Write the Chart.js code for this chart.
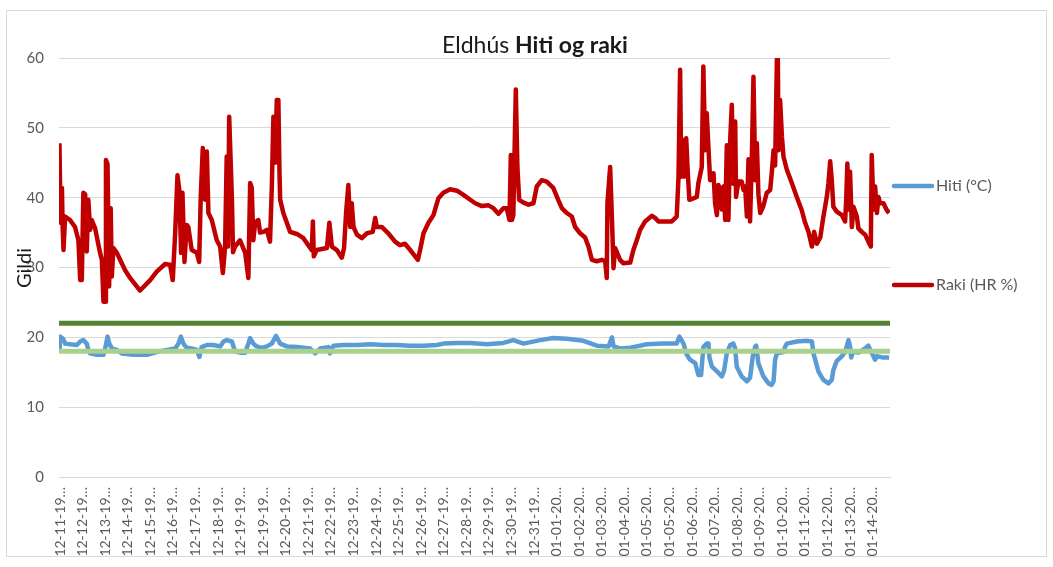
<!DOCTYPE html>
<html>
<head>
<meta charset="utf-8">
<script src="https://cdn.jsdelivr.net/npm/chart.js@4"></script>
<style>
  html, body { margin: 0; padding: 0; background: #fff; }
  #wrap { width: 1053px; height: 567px; }
</style>
</head>
<body>
<div id="wrap"><canvas id="graf" width="1053" height="567"></canvas></div>
<script>
// dagsetningar undir x-ás (eins og Excel styttir þær)
const dagar = ['12-11-19…','12-12-19…','12-13-19…','12-14-19…','12-15-19…','12-16-19…','12-17-19…','12-18-19…','12-19-19…','12-19-19…',
  '12-20-19…','12-21-19…','12-22-19…','12-23-19…','12-24-19…','12-25-19…','12-26-19…','12-27-19…','12-28-19…','12-29-19…',
  '12-30-19…','12-31-19…','01-01-20…','01-02-20…','01-03-20…','01-04-20…','01-05-20…','01-05-20…','01-06-20…','01-07-20…',
  '01-08-20…','01-09-20…','01-10-20…','01-11-20…','01-12-20…','01-13-20…','01-14-20…'];

const yTicks = [0, 10, 20, 30, 40, 50, 60];

// raki (HR %) : [staða á ás, gildi]
const raki = [
  [-0.03,47.8],[0.02,36.4],[0.08,41.4],[0.11,36],[0.15,32.5],[0.22,37.3],[0.44,36.8],[0.66,35.8],[0.81,33.9],[0.89,28.2],
  [0.96,28.2],[1.03,40.7],[1.11,40.5],[1.18,32.3],[1.25,39.7],[1.33,35.4],[1.40,36.8],[1.55,35.6],[1.77,32.1],[1.85,31.1],
  [1.92,25.1],[1.99,25.1],[2.03,45.4],[2.10,44.8],[2.17,27.3],[2.24,38.5],[2.29,28.7],[2.36,32.8],[2.51,32.1],[2.88,29.6],
  [3.10,28.5],[3.54,26.7],[3.99,28.2],[4.28,29.4],[4.65,30.5],[4.87,30.4],[4.99,28.2],[5.10,35.1],[5.20,43.2],[5.28,41.1],
  [5.36,32.1],[5.42,40.7],[5.51,30.8],[5.61,36.1],[5.68,35.8],[5.83,32.5],[6.06,32.1],[6.16,30.8],[6.23,40.1],[6.32,47.1],
  [6.42,39.7],[6.50,46.6],[6.57,37.8],[6.72,36.8],[6.94,33.9],[7.09,33.0],[7.21,29.2],[7.31,33.0],[7.38,45.9],[7.44,33],
  [7.49,51.6],[7.61,40],[7.66,32.2],[7.75,33],[7.97,33.9],[8.20,32.1],[8.34,28.5],[8.42,42.1],[8.49,41.4],[8.56,33.9],
  [8.64,36.4],[8.78,36.8],[8.86,35],[9.01,35.1],[9.16,35.4],[9.30,33.7],[9.38,41.6],[9.45,51.6],[9.53,45],[9.60,54.0],
  [9.67,54.0],[9.72,43.5],[9.75,39.7],[9.89,37.8],[10.19,35.1],[10.49,34.8],[10.78,34.2],[11.08,32.8],[11.15,32.5],[11.20,36.6],
  [11.24,31.6],[11.37,32.5],[11.82,32.8],[11.93,36.4],[12.04,33.0],[12.26,32.5],[12.48,31.4],[12.58,32.8],[12.67,37.8],[12.77,41.8],
  [12.85,35.8],[12.92,39.2],[13.00,35.8],[13.15,34.7],[13.37,34.2],[13.59,34.9],[13.85,35.1],[13.96,37.1],[14.03,35.8],[14.25,35.8],
  [14.54,34.9],[14.84,33.7],[15.06,33.2],[15.28,33.4],[15.51,32.5],[15.73,31.6],[15.85,31.1],[15.95,32.5],[16.10,34.9],[16.32,36.4],
  [16.54,37.5],[16.76,39.9],[16.98,40.7],[17.28,41.2],[17.58,41.0],[17.87,40.4],[18.17,39.7],[18.39,39.2],[18.69,38.8],[18.98,38.9],
  [19.20,38.5],[19.42,37.7],[19.64,38.5],[19.79,38.5],[19.91,36.8],[19.97,46.1],[20.02,36.8],[20.08,37.5],[20.19,55.5],[20.26,44.4],
  [20.34,39.7],[20.53,39.3],[20.75,39.0],[20.97,39.2],[21.12,41.6],[21.34,42.5],[21.56,42.3],[21.85,41.4],[22.07,39.7],[22.23,38.5],
  [22.45,37.8],[22.67,37.3],[22.82,35.8],[23.04,34.9],[23.26,34.3],[23.41,33.0],[23.56,31.1],[23.78,30.9],[24.00,31.1],[24.15,30.9],
  [24.22,28.5],[24.25,39.2],[24.37,44.4],[24.46,36],[24.52,29.9],[24.59,32.8],[24.81,31.1],[24.96,30.6],[25.26,30.7],[25.40,32.5],
  [25.55,33.9],[25.70,35.4],[25.92,36.6],[26.22,37.4],[26.36,37.1],[26.51,36.6],[27.10,36.6],[27.32,37.3],[27.40,43.0],[27.47,58.3],
  [27.52,43],[27.59,48.3],[27.65,43],[27.74,48.5],[27.81,43.5],[27.88,39.7],[28.06,39.9],[28.21,40.1],[28.28,42.1],[28.43,44.4],
  [28.50,58.8],[28.58,46.8],[28.65,52.1],[28.73,46.8],[28.80,42.5],[28.95,43.5],[29.02,39.2],[29.10,37.5],[29.17,41.8],[29.24,41.1],
  [29.32,38.3],[29.39,41.6],[29.47,36.8],[29.54,47.5],[29.61,36.8],[29.69,48.3],[29.76,53.3],[29.83,42],[29.91,50.9],[29.95,40.1],
  [30.05,42.3],[30.20,42.3],[30.28,41.1],[30.35,41.6],[30.43,37.3],[30.50,45.5],[30.57,36.6],[30.65,45.9],[30.72,57.3],[30.80,42.5],
  [30.87,47.8],[30.94,40.5],[31.02,37.8],[31.16,38.8],[31.31,40.7],[31.46,41.1],[31.53,43.5],[31.61,46.8],[31.68,44.6],[31.76,60],
  [31.80,60],[31.83,46.8],[31.90,54.0],[31.98,48.8],[32.05,45.9],[32.20,44.0],[32.42,42.1],[32.64,40.1],[32.86,38.2],[33.01,36.4],
  [33.16,35.1],[33.31,33.0],[33.41,35.1],[33.53,33.4],[33.68,34.3],[33.82,37.3],[33.97,40.1],[34.04,42],[34.12,45.2],[34.19,42.5],
  [34.26,38.7],[34.41,38.0],[34.64,37.5],[34.78,36.6],[34.83,39.7],[34.88,44.9],[34.94,38.3],[35.00,43.7],[35.08,35.8],[35.15,38.7],
  [35.30,37.3],[35.37,35.6],[35.52,35.1],[35.67,34.7],[35.81,33.7],[35.92,33.0],[35.96,46.1],[36.04,38.3],[36.11,41.6],[36.19,37.8],
  [36.26,40.1],[36.33,39.2],[36.48,39.2],[36.63,38.2],[36.73,37.8]
];

// hiti (°C)
const hiti = [
  [-0.03,17.8],[0.0,20.1],[0.13,19.8],[0.22,19.1],[0.44,19.0],[0.74,18.9],[0.89,19.4],[1.03,19.6],[1.18,19.1],[1.25,18.2],
  [1.33,17.7],[1.63,17.5],[1.92,17.5],[1.99,18.3],[2.10,20.1],[2.18,19.1],[2.29,18.4],[2.51,18.2],[2.73,17.7],[3.25,17.5],
  [3.84,17.5],[4.28,17.9],[4.73,18.2],[5.10,18.4],[5.24,19.1],[5.35,20.1],[5.46,19.1],[5.61,18.5],[5.83,18.4],[6.06,18.2],
  [6.17,17.2],[6.27,18.6],[6.50,18.9],[6.79,18.9],[7.09,18.7],[7.24,19.4],[7.38,19.6],[7.61,19.4],[7.75,18.0],[7.97,17.8],
  [8.20,17.8],[8.34,19.1],[8.42,19.9],[8.56,19.1],[8.71,18.7],[8.94,18.5],[9.16,18.7],[9.38,19.1],[9.57,20.2],[9.75,19.1],
  [10.04,18.7],[10.49,18.6],[11.08,18.4],[11.30,17.7],[11.52,18.4],[11.89,18.6],[11.96,17.7],[12.11,18.8],[12.55,18.9],[13.15,18.9],
  [13.74,19.0],[14.33,18.9],[14.92,18.9],[15.51,18.8],[16.10,18.8],[16.69,18.9],[16.98,19.1],[17.58,19.2],[18.17,19.2],[18.91,19.0],
  [19.64,19.2],[20.08,19.6],[20.53,19.1],[21.27,19.6],[21.85,19.9],[22.45,19.8],[23.19,19.5],[23.78,18.8],[24.30,18.7],[24.45,20.0],
  [24.52,18.7],[24.81,18.4],[25.26,18.5],[25.55,18.7],[26.00,19.0],[26.73,19.1],[27.32,19.1],[27.44,20.1],[27.62,19.1],[27.77,17.5],
  [27.91,16.8],[28.14,16.3],[28.28,14.6],[28.40,14.6],[28.50,18.6],[28.65,19.1],[28.73,19.1],[28.77,17.1],[28.88,15.8],[29.17,14.9],
  [29.32,14.4],[29.42,15.3],[29.54,17.7],[29.69,18.9],[29.83,19.1],[29.91,18.4],[29.98,15.8],[30.20,14.4],[30.43,13.7],[30.57,14.2],
  [30.69,17.3],[30.80,18.7],[30.84,18.8],[30.94,16.3],[31.16,14.4],[31.39,13.4],[31.53,13.2],[31.61,13.7],[31.68,16.8],[31.76,17.7],
  [32.05,17.9],[32.13,18.7],[32.20,19.1],[32.64,19.4],[33.08,19.5],[33.31,19.4],[33.38,17.7],[33.60,15.1],[33.82,13.9],[34.04,13.4],
  [34.19,13.9],[34.26,15.3],[34.41,16.6],[34.64,17.3],[34.78,17.9],[34.93,19.6],[35.00,18.7],[35.05,17.1],[35.15,18.0],[35.37,17.8],
  [35.67,18.4],[35.81,18.8],[35.89,18.2],[35.96,17.8],[36.11,16.8],[36.19,17.3],[36.48,17.1],[36.73,17.1]
];

// viðmiðunarlínur
const efriMork = 22;
const nedriMork = 18;

const xMin = -0.05, xMax = 36.77;
const letur = 'Lato, "Open Sans", sans-serif';

function pts(arr) { return arr.map(p => ({ x: p[0], y: p[1] })); }

const rammi = {
  id: 'rammi',
  beforeDraw(chart) {
    const c = chart.ctx;
    c.save();
    c.fillStyle = '#fff';
    c.fillRect(0, 0, chart.width, chart.height);
    c.strokeStyle = '#d9d9d9';
    c.lineWidth = 1;
    c.strokeRect(6.5, 10.5, 1040, 546);
    c.restore();
  },
  afterDraw(chart) {
    const c = chart.ctx;
    c.save();
    // titill, hluti feitletraður
    const t1 = 'Eldhús ', t2 = 'Hiti og raki';
    c.font = '23px ' + letur;
    const w1 = c.measureText(t1).width;
    c.font = 'bold 23px ' + letur;
    const w2 = c.measureText(t2).width;
    let x = 535 - (w1 + w2) / 2;
    c.fillStyle = '#1a1a1a';
    c.textBaseline = 'alphabetic';
    c.font = '23px ' + letur;
    c.fillText(t1, x, 53);
    c.font = 'bold 23px ' + letur;
    c.fillText(t2, x + w1, 53);

    // ás-titill
    c.save();
    c.translate(31, 268);
    c.rotate(-Math.PI / 2);
    c.font = '20px ' + letur;
    c.textAlign = 'center';
    c.fillStyle = '#1a1a1a';
    c.fillText('Gildi', 0, 0);
    c.restore();

    // skýringar
    const lx = chart.chartArea.right + 2;
    [[1, 186], [0, 285]].forEach(([i, y]) => {
      const ds = chart.data.datasets[i];
      c.strokeStyle = ds.borderColor;
      c.lineWidth = 4.5;
      c.lineCap = 'round';
      c.beginPath();
      c.moveTo(lx + 2, y);
      c.lineTo(lx + 40, y);
      c.stroke();
      c.font = '16px ' + letur;
      c.fillStyle = '#595959';
      c.textBaseline = 'middle';
      c.textAlign = 'left';
      c.fillText(ds.label, lx + 44, y);
    });
    c.restore();
  }
};

new Chart(document.getElementById('graf'), {
  type: 'line',
  data: {
    datasets: [
      { label: 'Raki (HR %)', data: pts(raki), borderColor: '#C00000', borderWidth: 4.5, order: 3 },
      { label: 'Hiti (°C)', data: pts(hiti), borderColor: '#5B9BD5', borderWidth: 4.5, order: 2 },
      { label: 'efri', data: [{ x: xMin, y: efriMork }, { x: xMax, y: efriMork }], borderColor: '#548235', borderWidth: 5, order: 1 },
      { label: 'neðri', data: [{ x: xMin, y: nedriMork }, { x: xMax, y: nedriMork }], borderColor: '#A9D18E', borderWidth: 5, order: 0 }
    ]
  },
  options: {
    responsive: false,
    animation: false,
    parsing: false,
    normalized: true,
    layout: { padding: { top: 58, right: 163, left: 0, bottom: 0 } },
    elements: { point: { radius: 0 }, line: { tension: 0, borderJoinStyle: 'round', borderCapStyle: 'butt' } },
    plugins: { legend: { display: false }, title: { display: false }, tooltip: { enabled: false } },
    scales: {
      x: {
        type: 'linear',
        min: xMin,
        max: xMax,
        grid: { display: false },
        border: { display: true, color: '#d9d9d9' },
        afterFit(s) { s.height = 90; },
        ticks: {
          stepSize: 1,
          autoSkip: false,
          includeBounds: false,
          minRotation: 90,
          maxRotation: 90,
          padding: 2,
          color: '#595959',
          font: { family: letur, size: 14 },
          callback: v => dagar[Math.round(v)]
        }
      },
      y: {
        min: 0,
        max: 60,
        afterFit(s) { s.width = 59; },
        afterBuildTicks(s) { s.ticks = yTicks.map(v => ({ value: v })); },
        grid: { color: '#d9d9d9', lineWidth: 1, drawTicks: false },
        border: { display: false },
        ticks: {
          padding: 15,
          color: '#595959',
          font: { family: letur, size: 15 }
        }
      }
    }
  },
  plugins: [rammi]
});
</script>
</body>
</html>
